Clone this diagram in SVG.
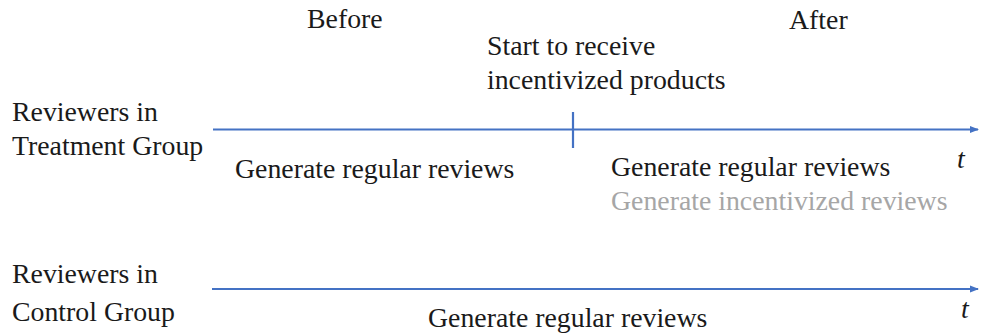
<svg xmlns="http://www.w3.org/2000/svg" width="981" height="334" viewBox="0 0 981 334">
<style>
.txt{font-size:27.8px;fill:#1a1a1a}
.gray{fill:#a6a6a6}
.t{font-style:italic}
.axis{stroke:#4472C4;stroke-width:2.2;fill:none}
</style>
<defs>
<marker id="arr" markerWidth="10" markerHeight="10" refX="8" refY="5" orient="auto" markerUnits="userSpaceOnUse">
<path d="M0,1.5 L9,5 L0,8.5 Z" fill="#4472C4"/>
</marker>
</defs>
<rect width="981" height="334" fill="#fff"/>
<g id="connectors">
<line class="axis" x1="213" y1="129.5" x2="978" y2="129.5" marker-end="url(#arr)"/>
<line class="axis" x1="573" y1="112" x2="573" y2="148"/>
<line class="axis" x1="212" y1="289" x2="978" y2="289" marker-end="url(#arr)"/>
</g>
<g class="txt" font-family="Liberation Serif, Tinos, Times New Roman, DejaVu Serif, serif">
<g id="header">
<text x="307" y="28">Before</text>
<text x="789" y="29">After</text>
</g>
<g id="event">
<text x="487" y="55">Start to receive</text>
<text x="487" y="89">incentivized products</text>
</g>
<g id="treatment">
<text x="12" y="121">Reviewers in</text>
<text x="12" y="155">Treatment Group</text>
<text x="235" y="178">Generate regular reviews</text>
<text x="611" y="176">Generate regular reviews</text>
<text class="gray" x="611" y="210">Generate incentivized reviews</text>
<text class="t" x="957" y="168">t</text>
</g>
<g id="control">
<text x="12" y="283">Reviewers in</text>
<text x="12" y="321">Control Group</text>
<text x="428" y="327">Generate regular reviews</text>
<text class="t" x="961" y="318">t</text>
</g>
</g>
</svg>
